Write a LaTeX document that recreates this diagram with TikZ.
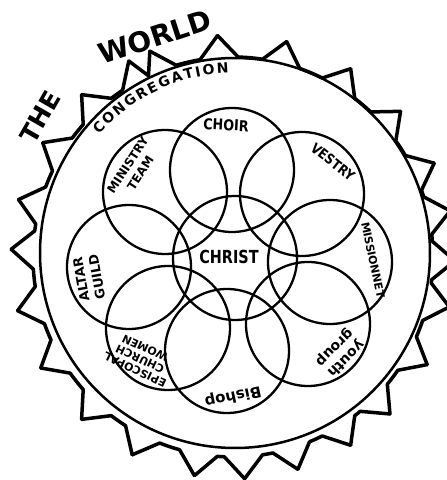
\documentclass[tikz,border=0pt]{standalone}
\usepackage{fontspec}
\setmainfont{DejaVu Sans}
\usetikzlibrary{calc,decorations.text}

\newcommand\congfont{\bfseries\fontsize{14}{14}\selectfont}

\tikzset{
  petal/.style={draw, circle, minimum size=124pt, inner sep=0pt, line width=2.3pt},
  hand/.style 2 args={font=\bfseries\fontsize{#1}{#2}\selectfont, align=center, inner sep=0pt},
  world/.style={line width=3.5pt, line join=round, line cap=round},
}

\begin{document}
\begin{tikzpicture}[x=1pt,y=1pt]
  \useasboundingbox (0,0) rectangle (447,480);
  \clip (0,0) rectangle (447,480);

  % the world: spikes round the church
  \coordinate (W) at (233,223);
  \begin{scope}[shift={(W)}]
    \foreach \a/\b in {178/165,165/149,149/133,133/118,118/112,112/94,94/76,76/58,
                       58/41,41/25,25/12,12/-1,-1/-13,-13/-29,-29/-45,-45/-58,-58/-73,
                       -73/-87,-87/-100,-100/-117,-117/-133,-133/-150,-150/-166,-166/-182} {
      \pgfmathsetmacro\d{min(5.5,(\a-\b)/2)}
      \draw[world] (\a:222) -- ({\a-\d}:200)
        arc[start angle=\a-\d, end angle=\b+\d, radius=200] -- (\b:222);
    }
  \end{scope}
  \node[hand={25}{25}, rotate=60] (the) at (40,363) {THE};
  \node[hand={28}{28}, rotate=18] (world) at (155,443) {WORLD};

  % congregation
  \node[draw, circle, minimum size=390pt, inner sep=0pt, line width=2.5pt] (cong) at (235,227) {};
  \path[decorate, decoration={text along path, text={|\congfont|CONGREGATION}, text align=fit to path}]
    ($(cong.center)+(139:180)$) arc[start angle=139, end angle=92, radius=180];

  % the groups
  \foreach \n/\x/\y in {choir/232/310, vestry/302/286, mission/330/218, youth/308/156,
                        bishop/227/129, ecw/168/152, altar/129/213, ministry/165/288}
    \node[petal] (\n) at (\x,\y) {};
  \node[petal] (christ) at (235,222) {};

  \node[hand={18}{18}, xscale=.8] (christlab) at (229,223) {CHRIST};
  \node[hand={15}{15}, rotate=-3, xscale=.85] (choirlab) at (226,355) {CHOIR};
  \node[hand={14}{14}, rotate=-38, xscale=.85] (vestrylab) at (333,318) {VESTRY};
  \node[hand={11}{11}, rotate=-78] (missionlab) at (373,220) {MISSIONNET};
  \node[hand={14}{16}, rotate=225] (youthlab) at (340,127) {youth\\group};
  \node[hand={15}{15}, rotate=192] (bishoplab) at (233,84) {Bishop};
  \node[hand={11}{12}, rotate=155] (ecwlab) at (140,121) {EPISCOPAL\\CHURCH\\WOMEN};
  \node[hand={13}{16}, rotate=100] (altarlab) at (89,202) {ALTAR\\GUILD};
  \node[hand={12}{15}, rotate=57] (ministrylab) at (134,311) {MINISTRY\\TEAM};
\end{tikzpicture}
\end{document}
